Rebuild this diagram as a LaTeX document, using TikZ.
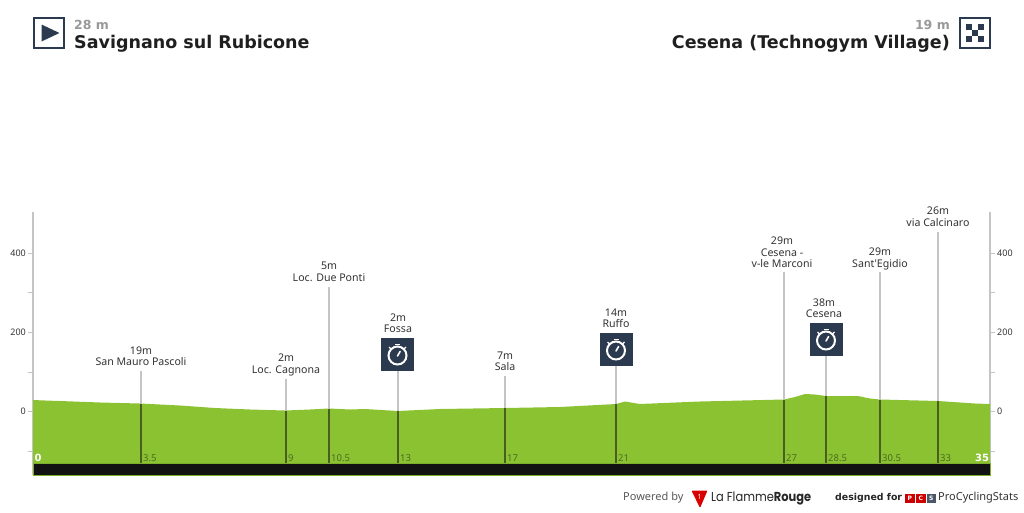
\documentclass[tikz,border=0pt]{standalone}
\usepackage{fontspec}
\setmainfont{Poppins}
\newfontfamily\titlefont{DejaVu Sans}
\newfontfamily\labelfont{Noto Sans}
\usetikzlibrary{calc}
\definecolor{navy}{HTML}{2B3A4E}
\definecolor{prof}{HTML}{8BC232}
\definecolor{profdark}{HTML}{7DAE2C}
\definecolor{axisgray}{HTML}{C4C4C4}
\definecolor{markdark}{HTML}{4A5E22}
\definecolor{txt}{HTML}{333333}
\definecolor{heightgray}{HTML}{999999}
\definecolor{kmtext}{HTML}{4F6B22}
\tikzset{
 x=1pt,y=-1pt,
 titletext/.style={font=\titlefont\bfseries\fontsize{17.5}{20}\selectfont,text=black!88,inner sep=0pt},
 hgt/.style={font=\titlefont\bfseries\fontsize{12.5}{14}\selectfont,text=heightgray,inner sep=0pt},
 lab/.style={font=\labelfont\fontsize{10.6}{11.6}\selectfont,text=txt,inner sep=0pt,align=center,anchor=south},
 axl/.style={font=\labelfont\fontsize{9}{10}\selectfont,text=txt,inner sep=0pt},
 kml/.style={font=\labelfont\fontsize{9.5}{10}\selectfont,text=kmtext,inner sep=0pt,anchor=west},
 kmw/.style={font=\titlefont\bfseries\fontsize{10}{10}\selectfont,text=white,inner sep=0pt},
 gline/.style={draw=axisgray,line width=1.3pt},
 dline/.style={draw=markdark,line width=1.3pt},
 foot/.style={inner sep=0pt,anchor=west},
 watch/.style={fill=navy,draw=none,minimum size=33pt,inner sep=0pt},
}
\newcommand\mk[4]{%
 \coordinate (#1t) at (#2,#3);
 \coordinate (#1s) at (#2,#4);
 \coordinate (#1b) at (#2,463);
 \draw[gline] (#1t) -- (#1s);
 \draw[dline] (#1s) -- (#1b);
}
\newcommand\stopw[2]{%
 \node[watch] (w#1) at (#2) {};
 \begin{scope}[shift={(w#1.center)},white,line width=2pt]
  \draw (0,1) circle (9);
  \draw[line width=1.8pt] (-2.5,-10) -- (2.5,-10);
  \draw[line width=1.3pt] (-8.5,-7.5) -- (-6.5,-5.5);
  \draw[line width=1.3pt] (8.5,-7.5) -- (6.5,-5.5);
  \draw[line width=1.6pt,line cap=round] (0,1.5) -- (2.6,-3);
 \end{scope}
}
\begin{document}
\begin{tikzpicture}
\useasboundingbox (0,0) rectangle (1024,512);
\fill[white] (0,0) rectangle (1024,512);
% header
\node[draw=navy,line width=2pt,minimum size=30pt,inner sep=0pt] (startbox) at (49,33) {};
\fill[navy] (41.5,24.5) -- (59.5,33) -- (41.5,41.5) -- cycle;
\node[hgt,anchor=base west] (starth) at (74,29) {28 m};
\node[titletext,anchor=base west] (startn) at (74,48) {Savignano sul Rubicone};
\node[draw=navy,line width=2pt,minimum size=30pt,inner sep=0pt] (endbox) at (975,33) {};
\foreach \i/\j in {0/0,2/0,1/1,0/2,2/2}{
 \fill[navy] ({965.5+\i*6.3},{23.5+\j*6.3}) rectangle +(6.3,6.3);
}
\node[hgt,anchor=base east] (endh) at (950,29) {19 m};
\node[titletext,anchor=base east] (endn) at (950,48) {Cesena (Technogym Village)};
% axes
\draw[gline] (33,212) -- (33,475);
\draw[gline] (990,212) -- (990,475);
\foreach \y in {253,292,332,372,411,451}{
 \draw[axisgray,line width=1pt] (28,\y) -- (33,\y);
 \draw[axisgray,line width=1pt] (990,\y) -- (995,\y);
}
\foreach \y/\t in {253/400,332/200,411.5/0}{
 \node[axl,anchor=east] at (26,\y) {\t};
 \node[axl,anchor=west] at (997,\y) {\t};
}
% profile
\fill[prof] (33,463) -- (33,400) -- (45,400.5) -- (60,401) -- (100,402.5) -- (140,403.5) -- (180,405.5) -- (215,408) -- (250,409.5) -- (285,410.5) -- (310,409.5) -- (329,408.5) -- (350,409.5) -- (365,409) -- (398,411) -- (440,409) -- (505,408) -- (560,407) -- (616,404) -- (625,401.5) -- (640,404) -- (700,401.5) -- (784,399.5) -- (795,397) -- (805,394) -- (815,394.5) -- (826,396) -- (858,396) -- (870,398.5) -- (880,399.5) -- (938,401) -- (975,403.5) -- (990,404) -- (990,463) -- cycle;
% markers
\mk{a}{141}{371}{403.5}
\mk{b}{286}{379}{410.5}
\mk{c}{329}{287}{408.5}
\mk{d}{398}{371}{411}
\mk{e}{505}{376}{408}
\mk{f}{616}{366}{404}
\mk{g}{784}{272}{399.5}
\mk{h}{826}{356}{396}
\mk{i}{880}{272}{399.5}
\mk{j}{938}{232}{401}
% base bar
\fill[profdark] (32.5,462.5) rectangle (990.5,476);
\fill[black!93] (33.5,463.5) rectangle (990,475);
% labels
\node[lab] (la) at (141,366) {19m\\San Mauro Pascoli};
\node[lab] (lb) at (286,376) {2m\\Loc. Cagnona};
\node[lab] (lc) at (329,281.5) {5m\\Loc. Due Ponti};
\node[lab] (ld) at (398,333) {2m\\Fossa};
\node[lab] (le) at (505,371) {7m\\Sala};
\node[lab] (lf) at (616,328) {14m\\Ruffo};
\node[lab] (lg) at (782,268) {29m\\Cesena -\\v-le Marconi};
\node[lab] (lh) at (824,318) {38m\\Cesena};
\node[lab] (li) at (880,270) {29m\\Sant'Egidio};
\node[lab] (lj) at (938,226.5) {26m\\via Calcinaro};
% stopwatches
\stopw{d}{397.5,354.5}
\stopw{f}{616,349.5}
\stopw{h}{826,339.5}
% km
\node[kmw] (k0) at (38,457.5) {0};
\node[kml] at (143,458) {3.5};
\node[kml] at (288,458) {9};
\node[kml] at (331,458) {10.5};
\node[kml] at (400,458) {13};
\node[kml] at (507,458) {17};
\node[kml] at (618,458) {21};
\node[kml] at (786,458) {27};
\node[kml] at (828,458) {28.5};
\node[kml] at (882,458) {30.5};
\node[kml] at (940,458) {33};
\node[kmw] (k35) at (982,457.5) {35};
% footer
\node[foot,font=\labelfont\fontsize{11}{12}\selectfont,text=black!65] (pow) at (623,498) {Powered by};
\fill[red!85!black,rounded corners=1pt] (691.5,490.5) -- (707.5,490.5) -- (700,508) -- cycle;
\node[inner sep=0pt,font=\labelfont\bfseries\fontsize{7}{7}\selectfont,text=white] at (699.5,496.5) {1};
\node[foot,font=\fontsize{13}{14}\selectfont,text=black!85] (lfr) at (711,498) {\scalebox{0.88}[1]{La Flamme\textbf{Rouge}}};
\node[foot,font=\titlefont\bfseries\fontsize{9.4}{12}\selectfont,text=black!85] (des) at (835,498) {designed for};
\fill[red!80!black] (905,494) rectangle +(9.5,9);
\fill[red!80!black] (916,494) rectangle +(9.5,9);
\fill[navy!85] (927,494) rectangle +(8.5,9);
\node[inner sep=0pt,font=\titlefont\bfseries\fontsize{6}{6}\selectfont,text=white] at (909.7,498.5) {P};
\node[inner sep=0pt,font=\titlefont\bfseries\fontsize{6}{6}\selectfont,text=white] at (920.7,498.5) {C};
\node[inner sep=0pt,font=\titlefont\bfseries\fontsize{6}{6}\selectfont,text=white] at (931.2,498.5) {S};
\node[foot,font=\labelfont\fontsize{11}{12}\selectfont,text=black!80] (pcs) at (938,498) {ProCyclingStats};
\end{tikzpicture}
\end{document}
